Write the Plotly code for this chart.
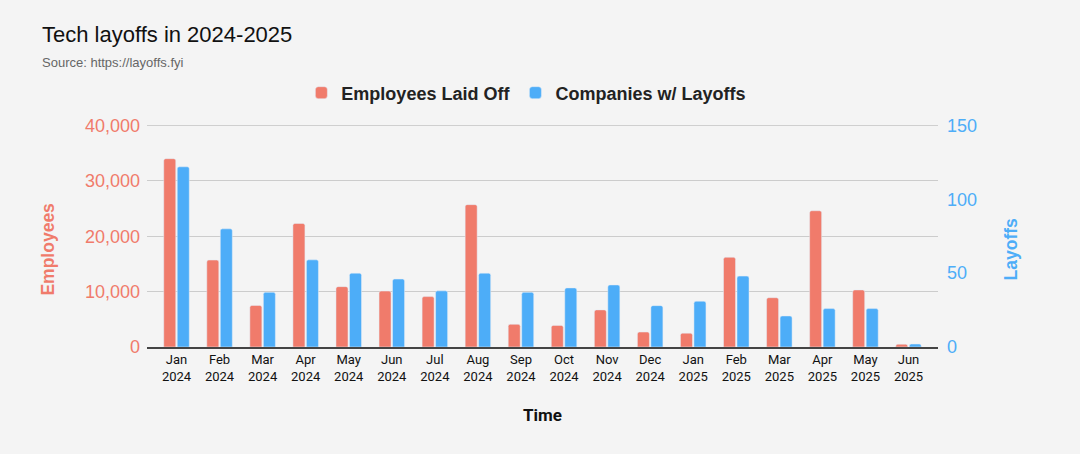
import plotly.graph_objects as go

months = ["Jan<br>2024", "Feb<br>2024", "Mar<br>2024", "Apr<br>2024", "May<br>2024", "Jun<br>2024",
          "Jul<br>2024", "Aug<br>2024", "Sep<br>2024", "Oct<br>2024", "Nov<br>2024", "Dec<br>2024",
          "Jan<br>2025", "Feb<br>2025", "Mar<br>2025", "Apr<br>2025", "May<br>2025", "Jun<br>2025"]
employees = [34000, 15700, 7500, 22300, 10900, 10100, 9100, 25700, 4100, 3900, 6700, 2700,
             2500, 16200, 8900, 24600, 10300, 500]
companies = [122, 80, 37, 59, 50, 46, 38, 50, 37, 40, 42, 28, 31, 48, 21, 26, 26, 2]
emp_ticks = [0, 10000, 20000, 30000, 40000]
co_ticks = [0, 50, 100, 150]

RED = "#F07B6B"
BLUE = "#4DADF8"
BG = "#F4F4F4"
FONT = "Liberation Sans, Arial, sans-serif"

Y1MAX = 40080
Y2MAX = 150 * Y1MAX / 40000
PLOT_L, PLOT_W = 147, 791.5
PLOT_TOP, PLOT_H = 125, 222
XPAD = 0.185


def px_x(x):
    return (x - PLOT_L) / PLOT_W


def px_y(y):
    return 1 - (y - PLOT_TOP) / PLOT_H


fig = go.Figure()
fig.add_trace(go.Bar(x=months, y=employees, name="Employees Laid Off", marker_color=RED,
                     marker_cornerradius=2, offsetgroup="1", yaxis="y"))
fig.add_trace(go.Bar(x=months, y=companies, name="Companies w/ Layoffs", marker_color=BLUE,
                     marker_cornerradius=2, offsetgroup="2", yaxis="y2"))

fig.update_layout(
    width=1080, height=454,
    paper_bgcolor=BG, plot_bgcolor=BG,
    margin=dict(l=PLOT_L, r=1080 - PLOT_L - PLOT_W, t=PLOT_TOP, b=454 - PLOT_TOP - PLOT_H, autoexpand=False),
    font=dict(family=FONT, color="#222"),
    barmode="group", bargap=0.373, bargroupgap=0.11,
    showlegend=True,
    legend=dict(orientation="h", x=0.4796, xanchor="center", xref="paper",
                y=1 - 93 / 454, yref="container", yanchor="middle",
                font=dict(size=18, color="#222", family=FONT, weight="bold"),
                bgcolor="rgba(0,0,0,0)", itemwidth=30),
    xaxis=dict(showgrid=False, tickfont=dict(size=13, color="#111", family="Roboto, Arial"),
               range=[-0.5 - XPAD, len(months) - 0.5 + XPAD],
               showline=True, linecolor="#444", linewidth=1.5,
               title=dict(text="<b>Time</b>", font=dict(size=17, color="#111", family="Roboto, Arial"), standoff=26)),
    yaxis=dict(range=[0, Y1MAX], tickvals=emp_ticks, tickformat=",", showgrid=True,
               gridcolor="#CCCCCC", gridwidth=1, zeroline=False, tickfont=dict(size=18, color=RED),
               ticklabelstandoff=6),
    yaxis2=dict(range=[0, Y2MAX], tickvals=co_ticks, overlaying="y", side="right", showgrid=False,
                zeroline=False, tickfont=dict(size=18, color=BLUE), ticklabelstandoff=8),
    shapes=[dict(type="line", xref="paper", yref="y", x0=0, x1=1, y0=emp_ticks[-1], y1=emp_ticks[-1],
                 line=dict(color="#CCCCCC", width=1), layer="below")],
    annotations=[
        dict(text="Tech layoffs in 2024-2025", xref="paper", yref="paper", x=px_x(40),
             y=px_y(35), xanchor="left", yanchor="middle", showarrow=False,
             font=dict(size=22, color="#111", family=FONT)),
        dict(text="Source: https://layoffs.fyi", xref="paper", yref="paper", x=px_x(40),
             y=px_y(62), xanchor="left", yanchor="middle", showarrow=False,
             font=dict(size=13, color="#666", family=FONT)),
        dict(text="<b>Employees</b>", xref="paper", yref="paper", x=px_x(47.5), y=px_y(249),
             xanchor="center", yanchor="middle", textangle=-90, showarrow=False,
             font=dict(size=17.5, color=RED, family=FONT)),
        dict(text="<b>Layoffs</b>", xref="paper", yref="paper", x=px_x(1012), y=px_y(249),
             xanchor="center", yanchor="middle", textangle=-90, showarrow=False,
             font=dict(size=17.5, color=BLUE, family=FONT)),
    ],
)

fig.write_html("out.html", config={"displayModeBar": False},
               post_script="document.body.style.margin='0';document.body.style.background='#F4F4F4';")
